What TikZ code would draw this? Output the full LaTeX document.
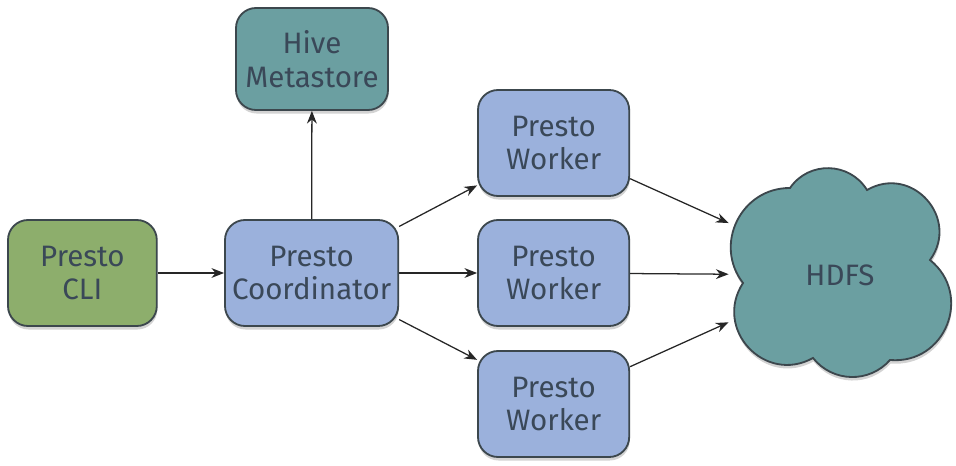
\documentclass[tikz,border=0pt]{standalone}
\usepackage{fontspec}
\setmainfont{Fira Sans}
\usepackage{tikz}
\usetikzlibrary{arrows.meta,shadows}

\definecolor{cligreen}{HTML}{8DAE6C}
\definecolor{prestoblue}{HTML}{9BB1DC}
\definecolor{hiveteal}{HTML}{6B9FA1}
\definecolor{edgedark}{HTML}{3C474D}
\definecolor{textdark}{HTML}{3A4858}

\begin{document}
\begin{tikzpicture}[>={Stealth[length=9pt,width=7pt]},semithick]

    \tikzstyle{component}=[draw=edgedark, line width=1.3pt, rounded corners=0.5cm, align=center,
        text=textdark, font=\fontsize{21}{24}\selectfont,
        drop shadow={shadow xshift=0.4pt, shadow yshift=-2.5pt, opacity=0.35}]
    \tikzstyle{client}=[component, fill=cligreen]
    \tikzstyle{presto}=[component, fill=prestoblue]
    \tikzstyle{metastore}=[component, fill=hiveteal]
    \tikzstyle{cloudline}=[draw=edgedark, line width=1.3pt, fill=hiveteal,
        drop shadow={shadow xshift=0.4pt, shadow yshift=-2.5pt, opacity=0.35}]
    \tikzstyle{storage}=[text=textdark, font=\fontsize{21}{24}\selectfont,
        minimum width=5.55cm, minimum height=5.25cm]
    \tikzstyle{flow}=[->, draw=black!85, line width=0.9pt]

    \useasboundingbox (0,0) rectangle (23.9,11.625);

    % client and coordinator
    \node[client, minimum width=3.72cm, minimum height=2.65cm] (cli) at (2.06,4.8) {Presto\\CLI};
    \node[presto, minimum width=4.33cm, minimum height=2.65cm] (coordinator) at (7.79,4.8) {Presto\\Coordinator};
    \node[metastore, minimum width=3.8cm, minimum height=2.55cm] (hive) at (7.8,10.15) {Hive\\Metastore};

    % the workers
    \node[presto, minimum width=3.78cm, minimum height=2.65cm] (worker_top) at (13.84,8.05) {Presto\\Worker};
    \node[presto, minimum width=3.78cm, minimum height=2.65cm] (worker_mid) at (13.84,4.8) {Presto\\Worker};
    \node[presto, minimum width=3.78cm, minimum height=2.65cm] (worker_bot) at (13.84,1.525) {Presto\\Worker};

    % storage: six puffs round the centre, then the label on top
    \coordinate (hdfs_c) at (21.0,4.75);
    \draw[cloudline, shift={(hdfs_c)}] (-2.425,-0.2)
        to[bend left=64,looseness=1.18] (-1.25,2.175)
        to[bend left=57,looseness=1.10] (0.675,2.125)
        to[bend left=78,looseness=1.41] (2.25,0.375)
        to[bend left=73,looseness=1.32] (1.25,-2.125)
        to[bend left=50,looseness=1.04] (-0.675,-2.075)
        to[bend left=76,looseness=1.37] cycle;
    \node[storage] (hdfs) at (hdfs_c) {HDFS};

    % connections
    \draw [flow] (cli) -- (coordinator);
    \draw [flow] (coordinator) -- (hive);
    \draw [flow] (coordinator.28) -- (worker_top.209);
    \draw [flow] (coordinator) -- (worker_mid);
    \draw [flow] (coordinator.-28) -- (worker_bot.150);
    \draw [flow] (worker_top.-25) -- (hdfs.155);
    \draw [flow] (worker_mid) -- (hdfs);
    \draw [flow] (worker_bot.26) -- (hdfs.203);

\end{tikzpicture}
\end{document}
